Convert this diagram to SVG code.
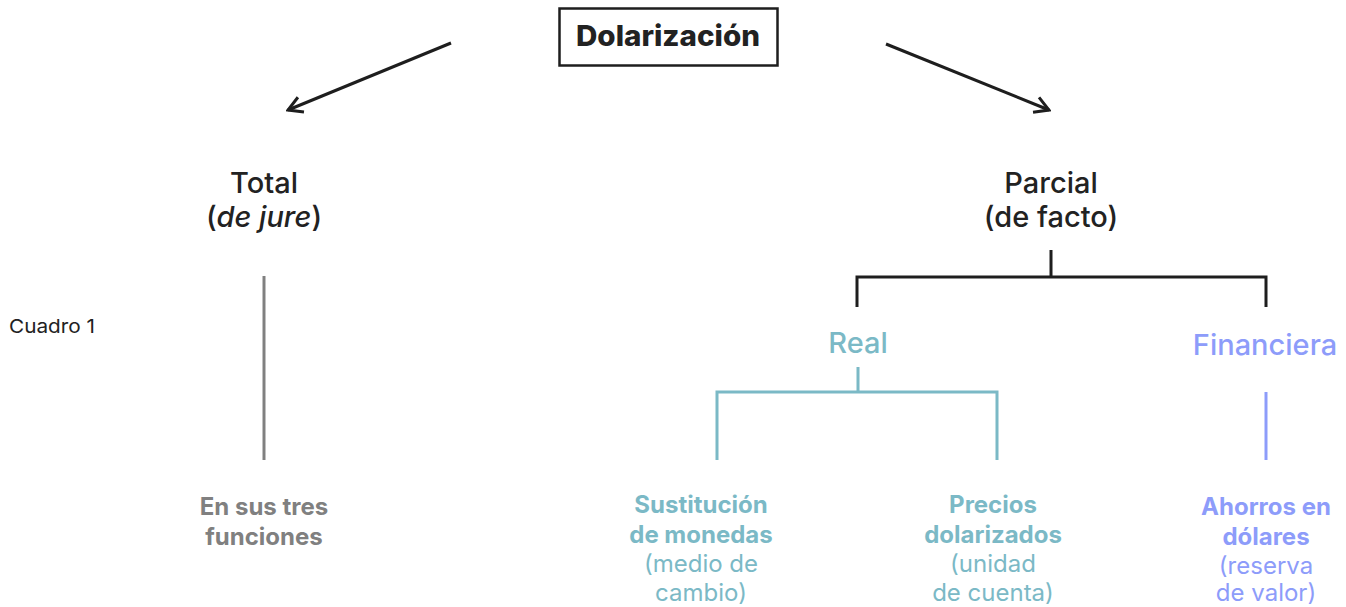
<svg xmlns="http://www.w3.org/2000/svg" width="1346" height="607" viewBox="0 0 1346 607">
<style>
text{font-family:Inter,"Liberation Sans",Arial,sans-serif;text-anchor:middle}
.blk{fill:#222}
.h{font-size:29px;font-weight:500}
.sub{font-size:24px}
.b{font-weight:700}
.gray{fill:#808080}
.teal{fill:#7bb9c6}
.blue{fill:#8d9cfa}
.ln{fill:none;stroke-width:3}
</style>
<defs>
<marker id="ah" viewBox="0 0 20 20" refX="18" refY="10" markerWidth="20" markerHeight="20" markerUnits="userSpaceOnUse" orient="auto">
<path d="M4,2 L18,10 L4,18" fill="none" stroke="#1e1e1e" stroke-width="3"/>
</marker>
</defs>
<rect width="1346" height="607" fill="#fff"/>
<g id="connectors">
<line x1="451" y1="43" x2="288" y2="110" stroke="#1e1e1e" stroke-width="3" marker-end="url(#ah)"/>
<line x1="886" y1="44" x2="1049" y2="110" stroke="#1e1e1e" stroke-width="3" marker-end="url(#ah)"/>
<line class="ln" x1="264" y1="276" x2="264" y2="460" stroke="#808080"/>
<path class="ln" d="M1051,250 V277 M857,307 V277 H1266 V307" stroke="#1e1e1e"/>
<path class="ln" d="M858,367 V392 M717,460 V392 H997 V460" stroke="#7bb9c6"/>
<line class="ln" x1="1266" y1="392" x2="1266" y2="460" stroke="#8d9cfa"/>
</g>
<g id="dolarizacion">
<rect x="559.5" y="8.5" width="218" height="57" fill="#fff" stroke="#1e1e1e" stroke-width="2.5"/>
<text x="668" y="46" class="blk" style="font-size:29px;font-weight:800" textLength="184" lengthAdjust="spacingAndGlyphs">Dolarización</text>
</g>
<g id="total">
<text x="264" y="193" class="blk h">Total</text>
<text x="264" y="227" class="blk h">(<tspan font-style="italic">de jure</tspan>)</text>
</g>
<g id="parcial">
<text x="1051" y="193" class="blk h">Parcial</text>
<text x="1051" y="227" class="blk h">(de facto)</text>
</g>
<g id="cuadro">
<text x="9" y="333" style="font-size:19px;text-anchor:start" class="blk" textLength="86" lengthAdjust="spacingAndGlyphs">Cuadro 1</text>
</g>
<g id="real">
<text x="858" y="353" class="teal h">Real</text>
</g>
<g id="financiera">
<text x="1265" y="355" class="blue h">Financiera</text>
</g>
<g id="tres-funciones">
<text x="264" y="515" class="gray sub b">En sus tres</text>
<text x="264" y="545" class="gray sub b">funciones</text>
</g>
<g id="sustitucion">
<text x="701" y="513" class="teal sub b">Sustitución</text>
<text x="701" y="543" class="teal sub b">de monedas</text>
<text x="701" y="572" class="teal sub">(medio de</text>
<text x="701" y="601" class="teal sub">cambio)</text>
</g>
<g id="precios">
<text x="993" y="513" class="teal sub b">Precios</text>
<text x="993" y="543" class="teal sub b">dolarizados</text>
<text x="993" y="572" class="teal sub">(unidad</text>
<text x="993" y="601" class="teal sub">de cuenta)</text>
</g>
<g id="ahorros">
<text x="1266" y="515" class="blue sub b">Ahorros en</text>
<text x="1266" y="545" class="blue sub b">dólares</text>
<text x="1266" y="574" class="blue sub">(reserva</text>
<text x="1266" y="601" class="blue sub">de valor)</text>
</g>
</svg>
